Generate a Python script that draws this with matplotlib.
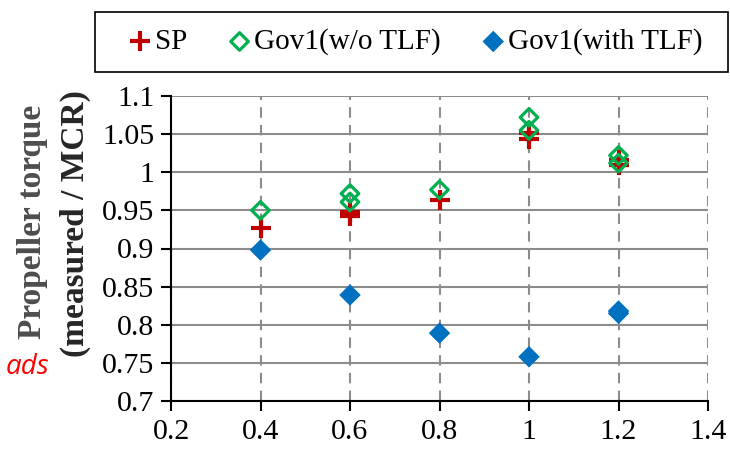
import matplotlib.pyplot as plt
from matplotlib.patches import Rectangle

# data
sp_x = [0.4, 0.6, 0.6, 0.8, 1.0, 1.0, 1.2, 1.2]
sp_y = [0.927, 0.942, 0.948, 0.964, 1.044, 1.052, 1.009, 1.016]
gov_x = [0.4, 0.6, 0.6, 0.8, 1.0, 1.0, 1.2, 1.2]
gov_y = [0.950, 0.961, 0.972, 0.977, 1.055, 1.072, 1.012, 1.022]
tlf_x = [0.4, 0.6, 0.8, 1.0, 1.2, 1.2]
tlf_y = [0.898, 0.839, 0.789, 0.758, 0.815, 0.818]
labels = ['SP', 'Gov1(w/o TLF)', 'Gov1(with TLF)']

plt.rcParams['font.family'] = ['Liberation Serif', 'DejaVu Serif']

fig = plt.figure(figsize=(7.3, 4.58), dpi=100)
ax = fig.add_axes([171/730, 1 - 401/458, (708 - 171)/730, (401 - 96)/458])

ax.scatter(sp_x, sp_y, marker='+', s=220, linewidths=3, color='#c00000', label=labels[0], zorder=3)
ax.scatter(gov_x, gov_y, marker='D', s=80, facecolors='none', edgecolors='#00b050', linewidths=2.3, label=labels[1], zorder=4)
ax.scatter(tlf_x, tlf_y, marker='D', s=120, color='#0070c0', edgecolors='none', label=labels[2], zorder=3)

ax.set_xlim(0.2, 1.4)
ax.set_ylim(0.7, 1.1)
ax.set_xticks([0.2, 0.4, 0.6, 0.8, 1.0, 1.2, 1.4])
ax.set_xticklabels(['0.2', '0.4', '0.6', '0.8', '1', '1.2', '1.4'])
ax.set_yticks([0.7, 0.75, 0.8, 0.85, 0.9, 0.95, 1.0, 1.05, 1.1])
ax.set_yticklabels(['0.7', '0.75', '0.8', '0.85', '0.9', '0.95', '1', '1.05', '1.1'])
ax.tick_params(labelsize=21.5, length=7, width=1.5, direction='out', color='black')
ax.tick_params(axis='x', pad=6)
ax.tick_params(axis='y', pad=5)

ax.yaxis.grid(True, color='#8c8c8c', linewidth=1.5)
ax.xaxis.grid(True, color='#8c8c8c', linewidth=1.5, linestyle=(0, (5, 3.5)))
ax.set_axisbelow(True)
for s in ['top', 'right']:
    ax.spines[s].set_visible(False)
for s in ['left', 'bottom']:
    ax.spines[s].set_linewidth(1.5)
    ax.spines[s].set_color('black')

fig.text(33/730, 1 - 222/458, 'Propeller torque', rotation=90, ha='center', va='center',
         fontsize=24, fontweight='bold', color='#4d4d4d')
fig.text(75/730, 1 - 224/458, '(measured / MCR)', rotation=90, ha='center', va='center',
         fontsize=24, fontweight='bold', color='#262626')
fig.text(6/730, 1 - 367/458, 'ads', ha='left', va='center', fontsize=20,
         style='italic', color='red', family=['Open Sans', 'DejaVu Sans'])

leg = fig.legend(loc='center', bbox_to_anchor=(414/730, 1 - 42/458),
                 ncol=3, fontsize=21, frameon=False,
                 handletextpad=0.0, columnspacing=1.3, handlelength=1.0,
                 scatterpoints=1)
# legend frame, wider than the legend's own
fig.patches.append(Rectangle((95/730, 1 - 72/458), (728 - 95)/730, 60/458,
                             transform=fig.transFigure, fill=False,
                             edgecolor='black', linewidth=1.2))

fig.savefig('out.png', dpi=100)
